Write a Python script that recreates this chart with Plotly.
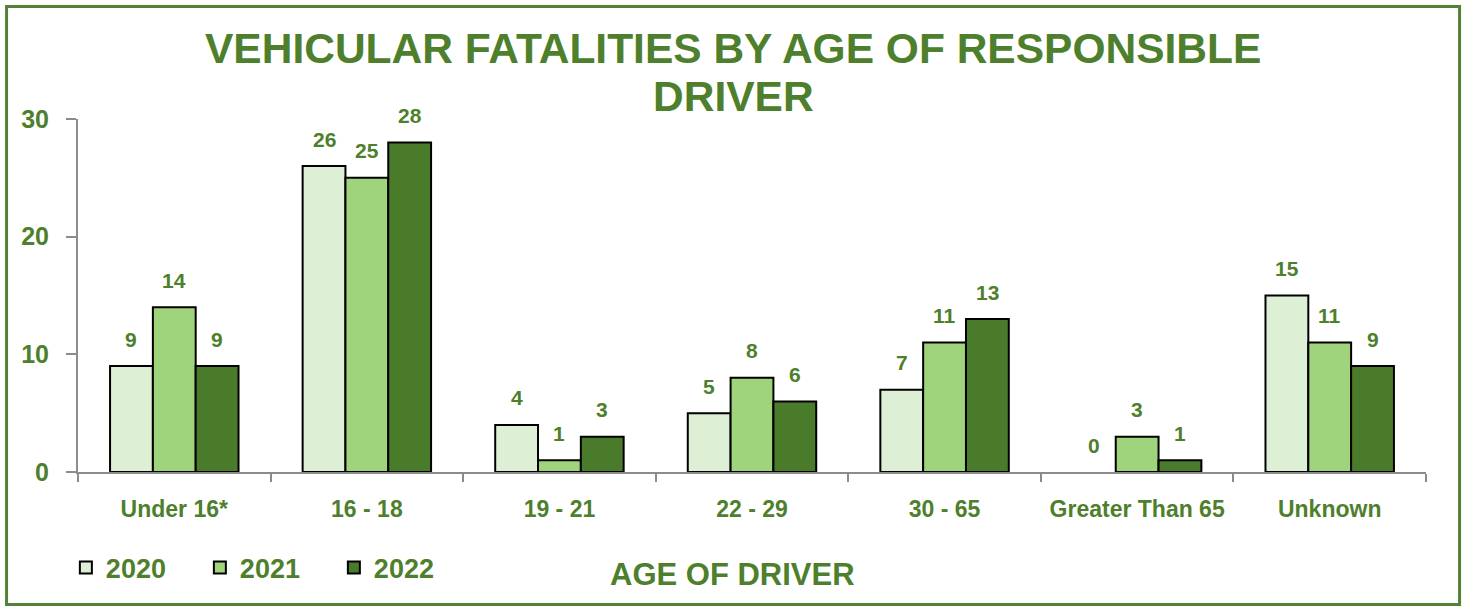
import plotly.graph_objects as go

categories = ["Under 16*", "16 - 18", "19 - 21", "22 - 29", "30 - 65", "Greater Than 65", "Unknown"]
years = ["2020", "2021", "2022"]
values_2020 = [9, 26, 4, 5, 7, 0, 15]
values_2021 = [14, 25, 1, 8, 11, 3, 11]
values_2022 = [9, 28, 3, 6, 13, 1, 9]
colors = ["#DDF0D5", "#A0D47C", "#4A7B2A"]
title_lines = ["VEHICULAR FATALITIES BY AGE OF RESPONSIBLE", "DRIVER"]

GREEN = "#4E7F2C"
FONT = "Liberation Sans, Arial, sans-serif"

W, H = 1466, 609
ML, MR, MT, MB = 78, 40, 119, 137
BARGAP = 0.333
plot_w = W - ML - MR
bar_w = plot_w / len(categories) * (1 - BARGAP) / len(years)

fig = go.Figure()
annotations = []
for i, (name, vals, col) in enumerate(zip(years, [values_2020, values_2021, values_2022], colors)):
    fig.add_trace(go.Bar(
        x=categories, y=vals, name=name,
        marker=dict(color=col, line=dict(color="#000000", width=[2 if v > 0 else 0 for v in vals])),
        cliponaxis=False,
    ))
    for cat, v in zip(categories, vals):
        annotations.append(dict(
            x=cat, y=v, xref="x", yref="y", text=str(v), showarrow=False,
            xanchor="center", yanchor="middle",
            xshift=(i - 1) * bar_w, yshift=27,
            font=dict(family=FONT, size=21, color=GREEN, weight="bold"),
        ))

annotations.append(dict(text=title_lines[0], xref="paper", yref="paper", x=0.486, y=1.201,
                        xanchor="center", yanchor="middle", showarrow=False,
                        font=dict(family=FONT, size=42.5, color=GREEN, weight="bold")))
annotations.append(dict(text=title_lines[1], xref="paper", yref="paper", x=0.486, y=1.065,
                        xanchor="center", yanchor="middle", showarrow=False,
                        font=dict(family=FONT, size=42.5, color=GREEN, weight="bold")))
annotations.append(dict(text="AGE OF DRIVER", xref="paper", yref="paper", x=0.4852, y=-0.289,
                        xanchor="center", yanchor="middle", showarrow=False,
                        font=dict(family=FONT, size=31, color=GREEN, weight="bold")))

fig.update_layout(
    width=W, height=H,
    margin=dict(l=ML, r=MR, t=MT, b=MB, autoexpand=False),
    paper_bgcolor="white", plot_bgcolor="white",
    barmode="group", bargap=BARGAP, bargroupgap=0,
    showlegend=True,
    legend=dict(
        orientation="h", x=-0.009, xanchor="left", y=-0.272, yanchor="middle",
        font=dict(family=FONT, size=27, color=GREEN, weight="bold"),
        entrywidth=89, entrywidthmode="pixels", itemwidth=30,
        traceorder="normal",
    ),
    shapes=[dict(type="rect", xref="paper", yref="paper",
                 x0=-0.053, x1=1.0249, y0=-0.3754, y1=1.3187,
                 line=dict(color="#538135", width=3), fillcolor="rgba(0,0,0,0)", layer="below")],
    annotations=annotations,
)
fig.update_xaxes(
    showline=True, linecolor="#8C8C8C", linewidth=2,
    ticks="outside", tickson="boundaries", ticklen=8, tickcolor="#8C8C8C", tickwidth=2,
    tickfont=dict(family=FONT, size=23, color=GREEN, weight="bold"),
    showgrid=False, ticklabelstandoff=15, tickangle=0, automargin=False,
)
fig.update_yaxes(
    range=[0, 30], dtick=10, showline=True, linecolor="#8C8C8C", linewidth=2,
    ticks="outside", ticklen=10, tickcolor="#8C8C8C", tickwidth=2,
    tickfont=dict(family=FONT, size=25, color=GREEN, weight="bold"),
    showgrid=False, zeroline=False, ticklabelstandoff=12, automargin=False,
)
fig.write_html("out.html", config={"displayModeBar": False},
               post_script="document.body.style.margin='0';document.body.style.overflow='hidden';")
